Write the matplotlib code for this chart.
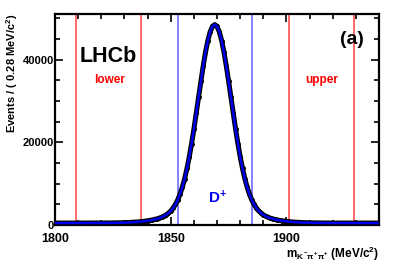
import matplotlib
matplotlib.use("Agg")
import matplotlib.pyplot as plt
import numpy as np
from matplotlib.ticker import MultipleLocator

plt.rcParams['font.family'] = ['Liberation Sans', 'DejaVu Sans']
plt.rcParams['mathtext.fontset'] = 'custom'
plt.rcParams['mathtext.rm'] = 'Liberation Sans:bold'
plt.rcParams['mathtext.it'] = 'Liberation Sans:bold'
plt.rcParams['mathtext.bf'] = 'Liberation Sans:bold'

# mass bins (MeV/c^2), 1 MeV steps
mass = list(range(1800, 1941))

# events per bin, left tail / peak / right tail
left_tail = [450] * 14 + [452, 453, 454, 455, 456,
             458, 460, 463, 467, 471, 477, 483, 492, 502, 514, 528, 546, 567, 591,
             621, 654, 694, 739, 791, 853, 922, 1002, 1094, 1200, 1323, 1468, 1641,
             1852, 2113, 2441, 2857, 3390, 4076, 4946, 6052, 7434, 9136, 11201,
             13646, 16476, 19676, 23202, 26963, 30847, 34716, 38401, 41731, 44543,
             46670, 47998]
peak = [48450]
right_tail = [47998, 46670, 44543, 41731, 38401, 34716, 30847, 26963, 23202,
              19676, 16476, 13646, 11201, 9136, 7434, 6052, 4946, 4076, 3390, 2857,
              2441, 2113, 1852, 1641, 1468, 1323, 1200, 1094, 1002, 922, 853, 791,
              739, 694, 654, 621, 591, 567, 546, 528, 514, 502, 492, 483, 477, 471,
              467, 463, 460, 458, 456, 455, 454, 453, 452] + [450] * 16
events = left_tail + peak + right_tail

# window boundaries
sideband_edges = [1809, 1837, 1901, 1929]
signal_edges = [1853, 1885]

fig = plt.figure(figsize=(3.99, 2.70), dpi=100)
ax = fig.add_axes([0.138, 0.167, 0.812, 0.781])

for x in sideband_edges:
    ax.axvline(x, color='#ff4040', lw=1.1, zorder=1)
for x in signal_edges:
    ax.axvline(x, color='#6060ff', lw=1.1, zorder=1)

# data points are dense (0.28 MeV bins) -> show as a black band of points
ax.plot(mass, events, '-', color='black', lw=3.6, zorder=2)
ax.plot(mass, events, 'o', color='black', ms=2.5, zorder=2)
ax.plot(mass, events, '-', color='#0000ee', lw=1.8, zorder=3)

ax.set_xlim(1800, 1940)
ax.set_ylim(0, 51000)
ax.xaxis.set_major_locator(MultipleLocator(50))
ax.xaxis.set_minor_locator(MultipleLocator(10))
ax.yaxis.set_major_locator(MultipleLocator(20000))
ax.yaxis.set_minor_locator(MultipleLocator(5000))
ax.tick_params(which='both', direction='in', top=True, right=True, width=1.2)
ax.tick_params(which='major', length=6)
ax.tick_params(which='minor', length=3.5)
ax.tick_params(axis='x', labelsize=9, pad=6)
ax.tick_params(axis='y', labelsize=8, pad=1)
for lab in ax.get_xticklabels() + ax.get_yticklabels():
    lab.set_fontweight('bold')
for s in ax.spines.values():
    s.set_linewidth(1.6)

ax.set_ylabel('Events / ( 0.28 MeV/c$^2$)', fontsize=8, fontweight='bold',
              loc='top', labelpad=2)
ax.set_xlabel(r'm$_{K^{-}\pi^{+}\pi^{+}}$ (MeV/c$^2$)', fontsize=8.5,
              fontweight='bold', loc='right', labelpad=0)

ax.text(1823, 40700, 'LHCb', fontsize=15.5, fontweight='bold', ha='center', va='center')
ax.text(1823.5, 35000, 'lower', fontsize=8.5, fontweight='bold', color='red',
        ha='center', va='center')
ax.text(1915, 35000, 'upper', fontsize=8.5, fontweight='bold', color='red',
        ha='center', va='center')
ax.text(1928.5, 44800, '(a)', fontsize=14, fontweight='bold', ha='center', va='center')
ax.text(1870, 6500, 'D$^{+}$', fontsize=11, fontweight='bold', color='#0000ee',
        ha='center', va='center')

fig.savefig('out.png', dpi=100)
